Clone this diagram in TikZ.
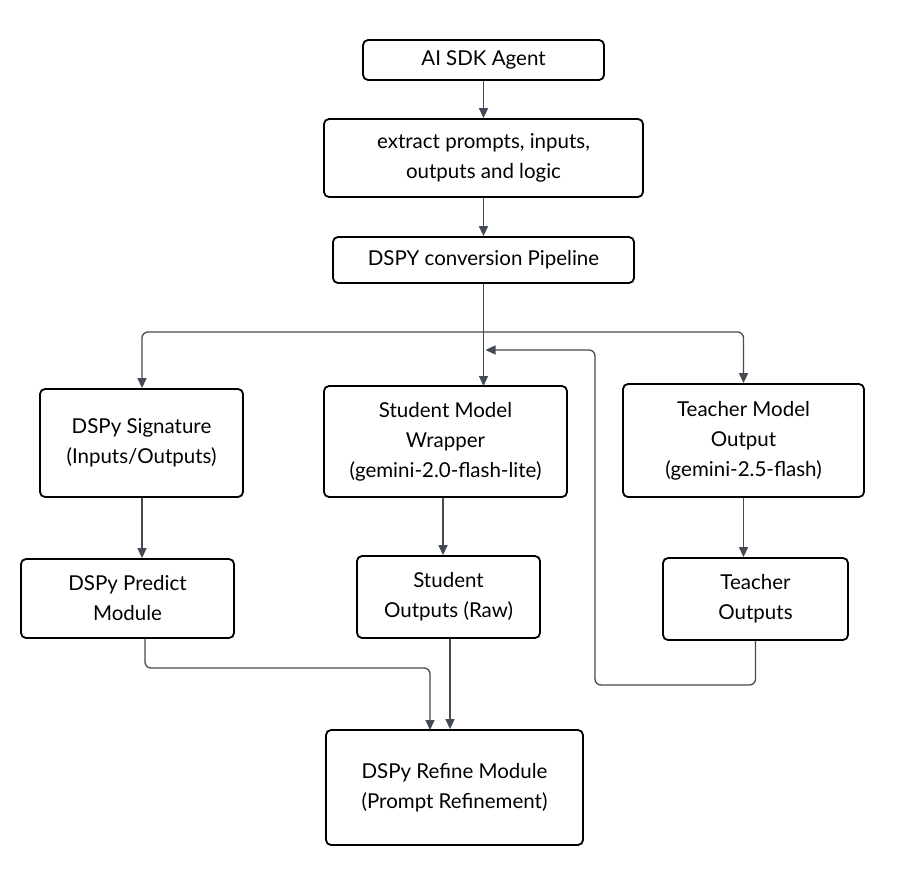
\documentclass[tikz,border=0pt]{standalone}
\usepackage{fontspec}
\setmainfont{Lato}
\usetikzlibrary{arrows.meta}
\definecolor{ln}{HTML}{454B55}
\tikzset{
 box/.style={draw=black,line width=1.8pt,rounded corners=5pt,align=center,font=\fontsize{20.5}{30}\selectfont,inner sep=0pt},
 conn/.style={draw=ln,line width=1.3pt,rounded corners=6pt,-{Triangle[length=10pt,width=9pt]}},
 plain/.style={draw=ln,line width=1.3pt,rounded corners=6pt}
}
\begin{document}
\begin{tikzpicture}[x=1pt,y=-1pt]
\useasboundingbox (0,0) rectangle (904,886);
\node[box,minimum width=241pt,minimum height=40pt] (agent) at (483.5,60) {AI SDK Agent};
\node[box,minimum width=319pt,minimum height=78pt] (extract) at (483.5,158) {extract prompts, inputs,\\outputs and logic};
\node[box,minimum width=301pt,minimum height=46pt] (pipe) at (483.5,260) {DSPY conversion Pipeline};
\node[box,minimum width=203pt,minimum height=108pt] (sig) at (141.5,443) {DSPy Signature\\(Inputs/Outputs)};
\node[box,minimum width=243pt,minimum height=111pt] (stud) at (445.5,441.5) {Student Model\\Wrapper\\(gemini-2.0-flash-lite)};
\node[box,minimum width=241pt,minimum height=113pt] (teach) at (743.5,440.5) {Teacher Model\\Output\\(gemini-2.5-flash)};
\node[box,minimum width=213pt,minimum height=79pt] (pred) at (127.5,598.5) {DSPy Predict\\Module};
\node[box,minimum width=183pt,minimum height=82pt] (sout) at (448.5,597) {Student\\Outputs (Raw)};
\node[box,minimum width=185pt,minimum height=82pt] (tout) at (755.5,599) {Teacher\\Outputs};
\node[box,minimum width=257pt,minimum height=115pt] (ref) at (454.5,787.5) {DSPy Refine Module\\(Prompt Refinement)};
\coordinate (split) at (483.5,332);
\draw[conn] (agent) -- (extract);
\draw[conn] (extract) -- (pipe);
\draw[plain] (pipe.south) -- (split);
\draw[conn] (split) -| (sig.north -| 142,0);
\draw[conn] (split) -| (teach.north);
\draw[conn] (split) -- (483.5,386);
\draw[conn] (tout.south) -- (755.5,685) -| (595,350) -- (485.5,350);
\draw[conn] (sig.south -| 142,0) -- (pred.north -| 142,0);
\draw[conn] (stud.south -| 443,0) -- (sout.north -| 443,0);
\draw[conn] (teach.south) -- (tout.north -| teach.south);
\draw[conn] (pred.south -| 145,0) -- (145,668) -| (430,730);
\draw[conn] (sout.south -| 450,0) -- (ref.north -| 450,0);
\end{tikzpicture}
\end{document}
